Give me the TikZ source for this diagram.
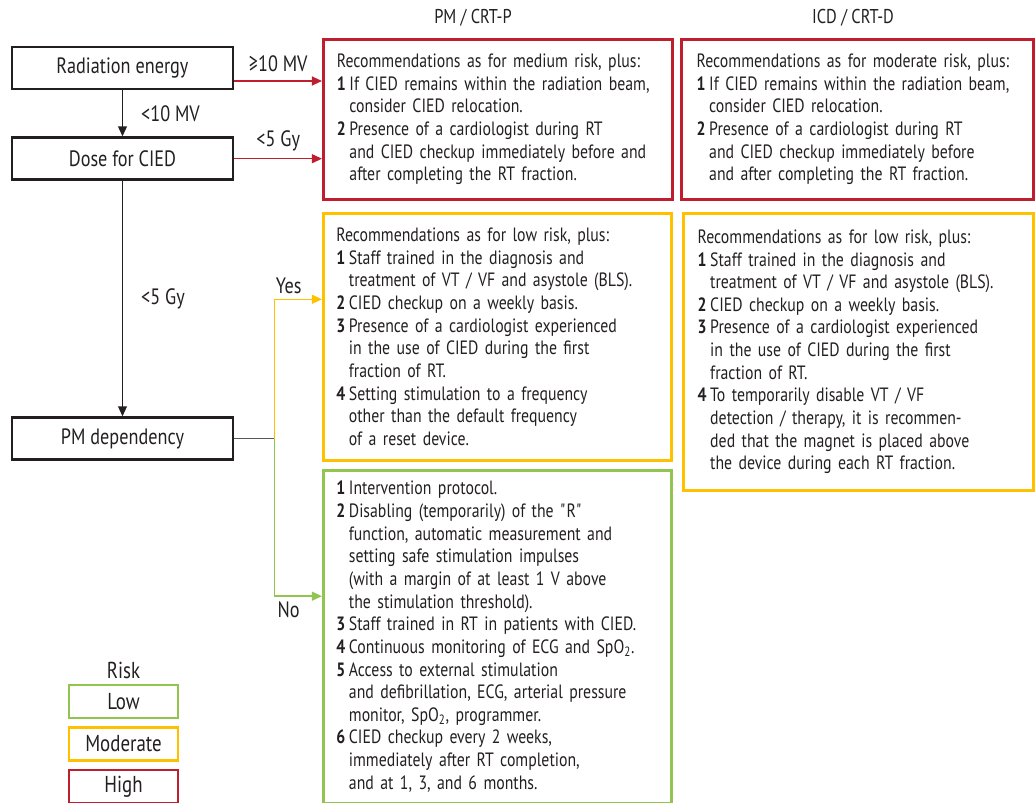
\documentclass[tikz,border=0pt]{standalone}
\usepackage{fontspec}
\setmainfont[FakeStretch=0.82]{PT Sans}
\usetikzlibrary{positioning,arrows.meta}
\definecolor{ink}{RGB}{35,31,32}
\definecolor{riskhigh}{RGB}{190,30,45}
\definecolor{riskmod}{RGB}{255,192,0}
\definecolor{risklow}{RGB}{146,196,80}
\newcommand{\itemno}[1]{\makebox[8.9pt][l]{\textbf{#1}}}
\newcommand{\hang}{\hspace*{8.9pt}}

\begin{document}
\begin{tikzpicture}[
    x=0.025cm, y=-0.025cm,
    node distance=0.6cm,
    flow/.style={rectangle, draw=ink, line width=1.9pt, text=ink,
        minimum width=5.53cm, minimum height=1.05cm, font=\fontsize{15.8}{18}\selectfont},
    legend/.style={rectangle, line width=1.8pt, text=ink,
        minimum width=2.725cm, minimum height=0.825cm, font=\fontsize{16.4}{18}\selectfont},
    recbox/.style={rectangle, line width=2pt, text=ink, anchor=north west,
        text width=8.05cm, align=left, inner sep=0pt, font=\fontsize{13.7}{16.1}\selectfont},
    high/.style={recbox, draw=riskhigh},
    moderate/.style={recbox, draw=riskmod},
    low/.style={recbox, draw=risklow},
    lbl/.style={text=ink, font=\fontsize{15.8}{18}\selectfont},
    head/.style={text=ink, font=\fontsize{14.2}{16}\selectfont},
    arrow/.style={-{Triangle[length=0.25cm,width=0.22cm]}, line width=1.1pt, ink},
    hiarrow/.style={arrow, riskhigh},
    modarrow/.style={arrow, riskmod},
    lowarrow/.style={arrow, risklow}
]
    \useasboundingbox (0,0) rectangle (1035,803);

    % decision chain
    \node[flow] (radiation) at (122.5,68) {Radiation energy};
    \node[flow, below=1.15cm of radiation] (dose) {Dose for CIED};
    \node[flow, below=5.88cm of dose] (pmdep) {PM dependency};

    % column heads
    \node[head] (pmhead) at (473,18) {PM / CRT-P};
    \node[head] (icdhead) at (853,18) {ICD / CRT-D};

    % high risk
    \node[high, minimum width=8.725cm, minimum height=4cm] (hipm) at (322,38) {%
        Recommendations as for medium risk, plus:\\
        \itemno{1}If CIED remains within the radiation beam,\\
        \hang consider CIED relocation.\\
        \itemno{2}Presence of a cardiologist during RT\\
        \hang and CIED checkup immediately before and\\
        \hang after completing the RT fraction.};
    \node[high, minimum width=8.8cm, minimum height=4cm, right=0.16cm of hipm] (hiicd) {%
        Recommendations as for moderate risk, plus:\\
        \itemno{1}If CIED remains within the radiation beam,\\
        \hang consider CIED relocation.\\
        \itemno{2}Presence of a cardiologist during RT\\
        \hang and CIED checkup immediately before\\
        \hang and after completing the RT fraction.};

    % moderate risk
    \node[moderate, minimum width=8.7cm, minimum height=6.175cm,
        below right=0.275cm and 0cm of hipm.south west] (modpm) {%
        Recommendations as for low risk, plus:\\
        \itemno{1}Staff trained in the diagnosis and\\
        \hang treatment of VT / VF and asystole (BLS).\\
        \itemno{2}CIED checkup on a weekly basis.\\
        \itemno{3}Presence of a cardiologist experienced\\
        \hang in the use of CIED during the first\\
        \hang fraction of RT.\\
        \itemno{4}Setting stimulation to a frequency\\
        \hang other than the default frequency\\
        \hang of a reset device.};
    \node[moderate, minimum width=8.75cm, minimum height=6.925cm,
        below right=0.275cm and 0.05cm of hiicd.south west] (modicd) {%
        Recommendations as for low risk, plus:\\
        \itemno{1}Staff trained in the diagnosis and\\
        \hang treatment of VT / VF and asystole (BLS).\\
        \itemno{2}CIED checkup on a weekly basis.\\
        \itemno{3}Presence of a cardiologist experienced\\
        \hang in the use of CIED during the first\\
        \hang fraction of RT.\\
        \itemno{4}To temporarily disable VT / VF\\
        \hang detection / therapy, it is recommen-\\
        \hang ded that the magnet is placed above\\
        \hang the device during each RT fraction.};

    % low risk
    \node[low, minimum width=8.7cm, minimum height=8.325cm,
        below right=0.175cm and 0cm of modpm.south west] (lowpm) {%
        \itemno{1}Intervention protocol.\\
        \itemno{2}Disabling (temporarily) of the \textquotedbl R\textquotedbl\\
        \hang function, automatic measurement and\\
        \hang setting safe stimulation impulses\\
        \hang (with a margin of at least 1 V above\\
        \hang the stimulation threshold).\\
        \itemno{3}Staff trained in RT in patients with CIED.\\
        \itemno{4}Continuous monitoring of ECG and SpO\textsubscript{2}.\\
        \itemno{5}Access to external stimulation\\
        \hang and defibrillation, ECG, arterial pressure\\
        \hang monitor, SpO\textsubscript{2}, programmer.\\
        \itemno{6}CIED checkup every 2 weeks,\\
        \hang immediately after RT completion,\\
        \hang and at 1, 3, and 6 months.};

    % connectors
    \draw[arrow] (radiation) -- (dose) node[lbl, midway, right=0.33cm] {<10 MV};
    \draw[hiarrow] ([yshift=-0.325cm]radiation.east) coordinate (radout)
        -- (radout -| hipm.west) node[lbl, midway, above=0.1cm] {≥10 MV};
    \draw[hiarrow] (dose) -- (dose -| hipm.west) node[lbl, midway, above=0.05cm] {<5 Gy};
    \draw[arrow] (dose) -- (pmdep) node[lbl, midway, right=0.33cm] {<5 Gy};

    \coordinate[right=1.0cm of pmdep] (fork);
    \draw[line width=1.1pt, ink!75] (pmdep) -- (fork);
    \draw[modarrow] (fork) |- ([yshift=0.9375cm]modpm.west) node[lbl, pos=0.65, above] {Yes};
    \draw[lowarrow] (fork) |- ([yshift=1.0125cm]lowpm.west) node[lbl, pos=0.65, below] {No};

    % legend
    \node[lbl, font=\fontsize{16.4}{18}\selectfont] (risk) at (123.5,670) {Risk};
    \node[legend, draw=risklow] (lowkey) at (123.5,701.5) {Low};
    \node[legend, draw=riskmod, below=0.175cm of lowkey] (modkey) {Moderate};
    \node[legend, draw=riskhigh, below=0.175cm of modkey] (highkey) {High};
\end{tikzpicture}
\end{document}
